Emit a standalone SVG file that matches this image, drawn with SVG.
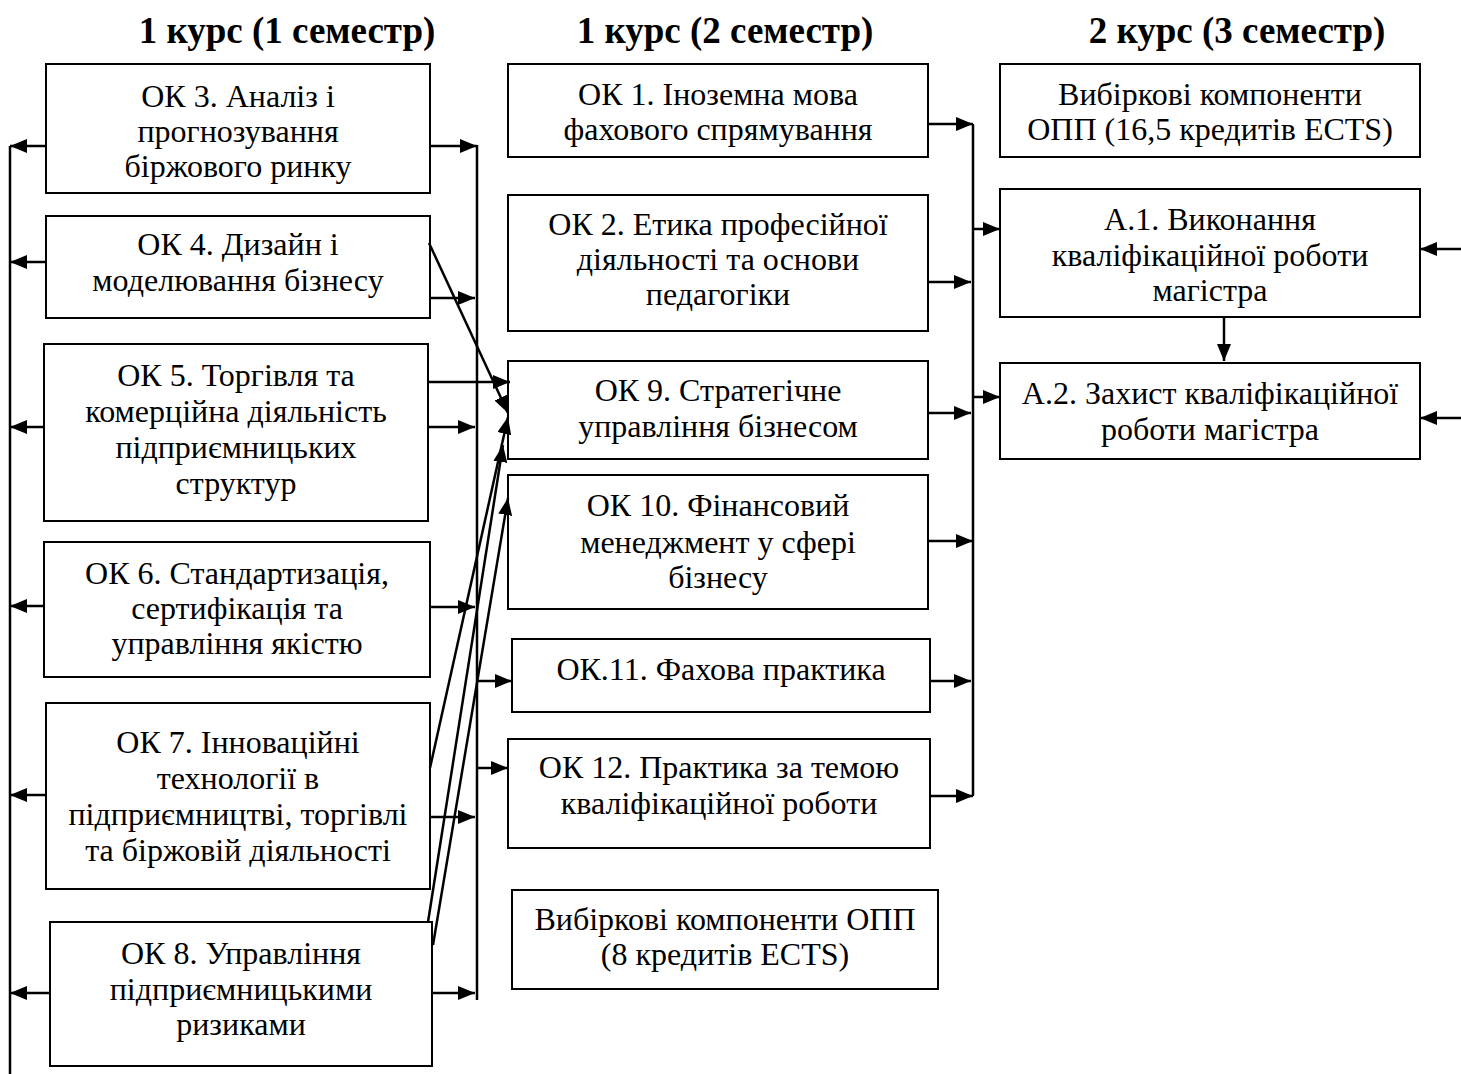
<svg xmlns="http://www.w3.org/2000/svg" width="1461" height="1074" viewBox="0 0 1461 1074">
<style>
.box{fill:#fff;stroke:#000;stroke-width:2}
.t{font-family:"Liberation Serif","Times New Roman",serif;font-size:32px;text-anchor:middle;fill:#000}
.h{font-family:"Liberation Serif","Times New Roman",serif;font-size:37px;font-weight:bold;text-anchor:middle;fill:#000}
.c{stroke:#000;stroke-width:2.5;fill:none}
.a{stroke:#000;stroke-width:2.5;fill:none;marker-end:url(#ah)}
</style>
<defs>
<marker id="ah" markerUnits="userSpaceOnUse" markerWidth="18" markerHeight="14" refX="17" refY="7" orient="auto">
<path d="M0,0 L17,7 L0,14 Z" fill="#000"/>
</marker>
</defs>
<rect width="1461" height="1074" fill="#fff"/>
<g id="headers">
<text class="h" x="287" y="43">1 курс (1 семестр)</text>
<text class="h" x="725" y="43">1 курс (2 семестр)</text>
<text class="h" x="1237" y="43">2 курс (3 семестр)</text>
</g>
<g id="ok3"><rect class="box" x="46" y="64" width="384" height="129"/>
<text class="t" x="238" y="107">ОК 3. Аналіз і</text><text class="t" x="238" y="142">прогнозування</text><text class="t" x="238" y="177">біржового ринку</text></g>
<g id="ok4"><rect class="box" x="46" y="216" width="384" height="102"/>
<text class="t" x="238" y="255">ОК 4. Дизайн і</text><text class="t" x="238" y="291">моделювання бізнесу</text></g>
<g id="ok5"><rect class="box" x="44" y="344" width="384" height="177"/>
<text class="t" x="236" y="386">ОК 5. Торгівля та</text><text class="t" x="236" y="422">комерційна діяльність</text><text class="t" x="236" y="458">підприємницьких</text><text class="t" x="236" y="494">структур</text></g>
<g id="ok6"><rect class="box" x="44" y="542" width="386" height="135"/>
<text class="t" x="237" y="584">ОК 6. Стандартизація,</text><text class="t" x="237" y="619">сертифікація та</text><text class="t" x="237" y="654">управління якістю</text></g>
<g id="ok7"><rect class="box" x="46" y="703" width="384" height="186"/>
<text class="t" x="238" y="753">ОК 7. Інноваційні</text><text class="t" x="238" y="789">технології в</text><text class="t" x="238" y="825">підприємництві, торгівлі</text><text class="t" x="238" y="861">та біржовій діяльності</text></g>
<g id="ok8"><rect class="box" x="50" y="922" width="382" height="144"/>
<text class="t" x="241" y="964">ОК 8. Управління</text><text class="t" x="241" y="1000">підприємницькими</text><text class="t" x="241" y="1035">ризиками</text></g>
<g id="ok1"><rect class="box" x="508" y="64" width="420" height="93"/>
<text class="t" x="718" y="105">ОК 1. Іноземна мова</text><text class="t" x="718" y="140">фахового спрямування</text></g>
<g id="ok2"><rect class="box" x="508" y="195" width="420" height="136"/>
<text class="t" x="718" y="235">ОК 2. Етика професійної</text><text class="t" x="718" y="270">діяльності та основи</text><text class="t" x="718" y="305">педагогіки</text></g>
<g id="ok9"><rect class="box" x="508" y="361" width="420" height="98"/>
<text class="t" x="718" y="401">ОК 9. Стратегічне</text><text class="t" x="718" y="437">управління бізнесом</text></g>
<g id="ok10"><rect class="box" x="508" y="475" width="420" height="134"/>
<text class="t" x="718" y="516">ОК 10. Фінансовий</text><text class="t" x="718" y="553">менеджмент у сфері</text><text class="t" x="718" y="588">бізнесу</text></g>
<g id="ok11"><rect class="box" x="512" y="639" width="418" height="73"/>
<text class="t" x="721" y="680">ОК.11. Фахова практика</text></g>
<g id="ok12"><rect class="box" x="508" y="739" width="422" height="109"/>
<text class="t" x="719" y="778">ОК 12. Практика за темою</text><text class="t" x="719" y="814">кваліфікаційної роботи</text></g>
<g id="vk1"><rect class="box" x="512" y="890" width="426" height="99"/>
<text class="t" x="725" y="930">Вибіркові компоненти ОПП</text><text class="t" x="725" y="965">(8 кредитів ECTS)</text></g>
<g id="vk2"><rect class="box" x="1000" y="64" width="420" height="93"/>
<text class="t" x="1210" y="105">Вибіркові компоненти</text><text class="t" x="1210" y="140">ОПП (16,5 кредитів ECTS)</text></g>
<g id="a1"><rect class="box" x="1000" y="189" width="420" height="128"/>
<text class="t" x="1210" y="230">А.1. Виконання</text><text class="t" x="1210" y="266">кваліфікаційної роботи</text><text class="t" x="1210" y="301">магістра</text></g>
<g id="a2"><rect class="box" x="1000" y="363" width="420" height="96"/>
<text class="t" x="1210" y="404">А.2. Захист кваліфікаційної</text><text class="t" x="1210" y="440">роботи магістра</text></g>
<g id="connectors">
<line class="c" x1="10" y1="146" x2="10" y2="1074"/>
<line class="a" x1="46" y1="146" x2="10" y2="146"/>
<line class="a" x1="46" y1="262" x2="10" y2="262"/>
<line class="a" x1="44" y1="427" x2="10" y2="427"/>
<line class="a" x1="44" y1="606" x2="10" y2="606"/>
<line class="a" x1="46" y1="795" x2="10" y2="795"/>
<line class="a" x1="50" y1="993" x2="10" y2="993"/>
<line class="c" x1="477" y1="145" x2="477" y2="1000"/>
<line class="a" x1="430" y1="146" x2="477" y2="146"/>
<line class="a" x1="430" y1="298" x2="475" y2="298"/>
<line class="a" x1="428" y1="427" x2="475" y2="427"/>
<line class="a" x1="430" y1="607" x2="475" y2="607"/>
<line class="a" x1="430" y1="817" x2="475" y2="817"/>
<line class="a" x1="432" y1="993" x2="475" y2="993"/>
<line class="a" x1="477" y1="681" x2="512" y2="681"/>
<line class="a" x1="477" y1="768" x2="508" y2="768"/>
<line class="a" x1="428" y1="382" x2="510" y2="382"/>
<line class="a" x1="429" y1="243" x2="508" y2="413"/>
<line class="a" x1="430" y1="768" x2="508" y2="417"/>
<line class="a" x1="428" y1="922" x2="503" y2="445"/>
<line class="a" x1="433" y1="945" x2="508" y2="498"/>
<line class="c" x1="973" y1="124" x2="973" y2="796"/>
<line class="a" x1="928" y1="124" x2="973" y2="124"/>
<line class="a" x1="928" y1="282" x2="971" y2="282"/>
<line class="a" x1="928" y1="413" x2="971" y2="413"/>
<line class="a" x1="928" y1="541" x2="973" y2="541"/>
<line class="a" x1="930" y1="681" x2="971" y2="681"/>
<line class="a" x1="930" y1="796" x2="973" y2="796"/>
<line class="a" x1="973" y1="229" x2="1000" y2="229"/>
<line class="a" x1="973" y1="397" x2="1000" y2="397"/>
<line class="a" x1="1224" y1="317" x2="1224" y2="361"/>
<line class="a" x1="1461" y1="249" x2="1420" y2="249"/>
<line class="a" x1="1461" y1="418" x2="1420" y2="418"/>
</g>
</svg>
